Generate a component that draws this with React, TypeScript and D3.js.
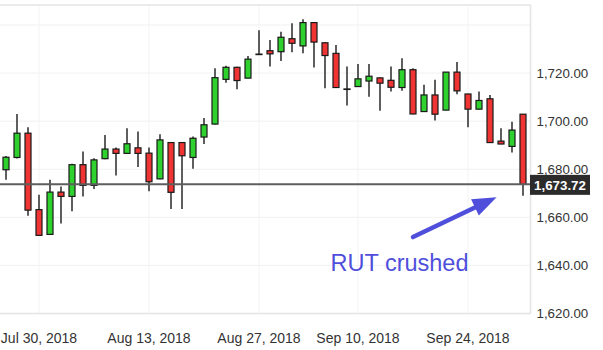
import React from "react";
import * as d3 from "d3";

const dates = [
  "2018-07-25","2018-07-26","2018-07-27","2018-07-30","2018-07-31","2018-08-01","2018-08-02","2018-08-03",
  "2018-08-06","2018-08-07","2018-08-08","2018-08-09","2018-08-10","2018-08-13","2018-08-14","2018-08-15",
  "2018-08-16","2018-08-17","2018-08-20","2018-08-21","2018-08-22","2018-08-23","2018-08-24","2018-08-27",
  "2018-08-28","2018-08-29","2018-08-30","2018-08-31","2018-09-04","2018-09-05","2018-09-06","2018-09-07",
  "2018-09-10","2018-09-11","2018-09-12","2018-09-13","2018-09-14","2018-09-17","2018-09-18","2018-09-19",
  "2018-09-20","2018-09-21","2018-09-24","2018-09-25","2018-09-26","2018-09-27","2018-09-28","2018-10-01",
];
const opens = [
  1679.8,1684.9,1695.0,1663.2,1652.9,1670.5,1668.7,1681.9,
  1673.3,1684.4,1688.4,1686.6,1688.9,1686.7,1676.0,1691.1,
  1691.1,1684.9,1693.4,1698.8,1717.4,1722.4,1717.9,1727.9,
  1729.3,1728.9,1734.3,1731.3,1741.0,1732.6,1728.2,1713.4,
  1714.4,1716.7,1718.0,1717.0,1714.0,1721.4,1704.0,1710.9,
  1704.6,1720.4,1711.3,1705.0,1709.3,1691.7,1689.5,1702.9,
];
const highs = [
  1685.5,1703.0,1697.5,1669.4,1675.6,1672.8,1682.3,1687.4,
  1684.6,1694.2,1689.0,1697.1,1695.7,1689.0,1694.6,1691.3,
  1691.3,1693.6,1701.3,1722.0,1723.1,1722.6,1727.1,1737.8,
  1733.8,1737.2,1740.7,1742.4,1741.2,1732.8,1731.7,1722.7,
  1723.8,1723.8,1718.2,1722.7,1726.2,1722.0,1715.1,1717.2,
  1720.5,1724.6,1711.4,1712.3,1710.9,1697.1,1699.8,1703.0,
];
const lows = [
  1675.6,1684.5,1660.7,1652.3,1652.7,1657.4,1662.5,1668.7,
  1671.8,1684.2,1677.4,1686.4,1680.9,1670.8,1675.8,1663.5,
  1663.5,1680.2,1690.5,1698.6,1716.0,1713.3,1717.8,1727.7,
  1722.7,1725.0,1728.7,1728.2,1722.3,1713.7,1713.9,1706.5,
  1714.3,1710.2,1704.3,1712.3,1712.7,1702.9,1703.9,1700.3,
  1704.5,1711.2,1697.5,1704.9,1691.0,1690.4,1687.0,1669.0,
];
const closes = [
  1685.0,1695.0,1663.0,1652.5,1670.5,1668.7,1681.9,1673.3,
  1683.9,1688.4,1686.6,1690.6,1686.6,1674.8,1692.2,1670.4,
  1685.6,1692.9,1698.5,1718.1,1722.4,1716.9,1725.8,1727.8,
  1728.0,1734.9,1732.4,1741.0,1732.9,1727.3,1714.0,1713.3,
  1717.6,1718.7,1715.8,1714.1,1721.4,1703.0,1710.9,1702.9,
  1720.4,1712.6,1705.0,1708.6,1691.1,1690.5,1696.3,1673.72,
];
const xTickDates = ["2018-07-30","2018-08-13","2018-08-27","2018-09-10","2018-09-24"];
const xTickLabels = ["Jul 30, 2018","Aug 13, 2018","Aug 27, 2018","Sep 10, 2018","Sep 24, 2018"];
const yTicks = [1620, 1640, 1660, 1680, 1700, 1720];
const lastPrice = 1673.72;
const annotationText = "RUT crushed";
// annotation anchors in data space: [date index, price]
const arrowFrom = [37.0, 1651.8];
const arrowTo = [44.6, 1668.4];
const textAt = [29.5, 1637.6];

const W = 603, H = 350;
const plotRight = 530.5, plotTop = 5, plotBottom = 313.5;
const GREEN = "#2fd12f";
const RED = "#f03434";
const BLUE = "#4f4fdc";

export default function App() {
  const x = d3.scaleBand<string>().domain(dates).range([0.5, 528.5]).padding(0);
  const xc = (d: string) => (x(d) as number) + x.bandwidth() / 2;
  const xi = d3.scaleLinear().domain([0, dates.length - 1]).range([xc(dates[0]), xc(dates[dates.length - 1])]);
  const y = d3.scaleLinear().domain([1620, 1740]).range([plotBottom, 25]);
  const gridY = d3.range(1640, 1741, 20);
  const fmt = d3.format(",.2f");
  const bodyW = 6;

  const ax0 = xi(arrowFrom[0]), ay0 = y(arrowFrom[1]);
  const ax1 = xi(arrowTo[0]), ay1 = y(arrowTo[1]);
  const ang = Math.atan2(ay1 - ay0, ax1 - ax0);
  const headLen = 24, headHalf = 9;
  const bx = ax1 - headLen * Math.cos(ang), by = ay1 - headLen * Math.sin(ang);
  const px = -Math.sin(ang), py = Math.cos(ang);
  const head = [
    [ax1, ay1],
    [bx + px * headHalf, by + py * headHalf],
    [bx - px * headHalf, by - py * headHalf],
  ];

  return (
    <svg width={W} height={H} style={{ position: "absolute", left: 0, top: 0, background: "#fff" }}
      fontFamily="'Liberation Sans', Arial, sans-serif">
      {/* grid */}
      {gridY.map((v) => (
        <line key={"gy" + v} x1={0} x2={plotRight} y1={y(v)} y2={y(v)} stroke="#f1f1f1" strokeWidth={1} />
      ))}
      {xTickDates.map((d) => (
        <line key={"gx" + d} x1={xc(d)} x2={xc(d)} y1={plotTop} y2={plotBottom} stroke="#f3f3f3" strokeWidth={1} />
      ))}
      {/* frame */}
      <line x1={0} x2={plotRight} y1={plotTop} y2={plotTop} stroke="#e4e4e4" strokeWidth={1.5} />
      <line x1={plotRight} x2={plotRight} y1={plotTop} y2={plotBottom} stroke="#e4e4e4" strokeWidth={1.5} />
      <line x1={0} x2={plotRight} y1={plotBottom} y2={plotBottom} stroke="#e4e4e4" strokeWidth={1.5} />
      {/* candles */}
      {dates.map((d, i) => {
        const o = opens[i], c = closes[i], h = highs[i], l = lows[i];
        const cx = xc(d);
        const top = y(Math.max(o, c));
        const bot = y(Math.min(o, c));
        const bh = Math.max(bot - top, 0.5);
        return (
          <g key={d}>
            <line x1={cx} x2={cx} y1={y(h)} y2={y(l)} stroke="#1a1a1a" strokeWidth={1.4} />
            <rect x={cx - bodyW / 2} y={top} width={bodyW} height={bh}
              fill={c >= o ? GREEN : RED} stroke="#1a1a1a" strokeWidth={1.2} />
          </g>
        );
      })}
      {/* last price line */}
      <line x1={0} x2={plotRight} y1={y(lastPrice)} y2={y(lastPrice)} stroke="#5e5e5e" strokeWidth={2} />
      {/* y axis labels */}
      {yTicks.map((v) => (
        <text key={"yl" + v} x={536.5} y={y(v)} dy="0.35em" fontSize={13.3} fill="#333">{fmt(v)}</text>
      ))}
      <rect x={530} y={y(lastPrice) - 9.5} width={60} height={20} fill="#2b2b2b" />
      <text x={560} y={y(lastPrice) + 0.5} dy="0.35em" textAnchor="middle" fontSize={13.3} fontWeight="bold" fill="#fff">
        {fmt(lastPrice)}
      </text>
      {/* x axis labels */}
      {xTickDates.map((d, i) => (
        <text key={"xl" + d} x={xc(d)} y={343} textAnchor="middle" fontSize={14} fill="#333">{xTickLabels[i]}</text>
      ))}
      {/* annotation */}
      <line x1={ax0} y1={ay0} x2={bx} y2={by} stroke={BLUE} strokeWidth={4.5} strokeLinecap="round" />
      <polygon points={head.map((p) => p.join(",")).join(" ")} fill={BLUE} />
      <text x={xi(textAt[0])} y={y(textAt[1])} fontSize={23.5} fill={BLUE}>{annotationText}</text>
    </svg>
  );
}
